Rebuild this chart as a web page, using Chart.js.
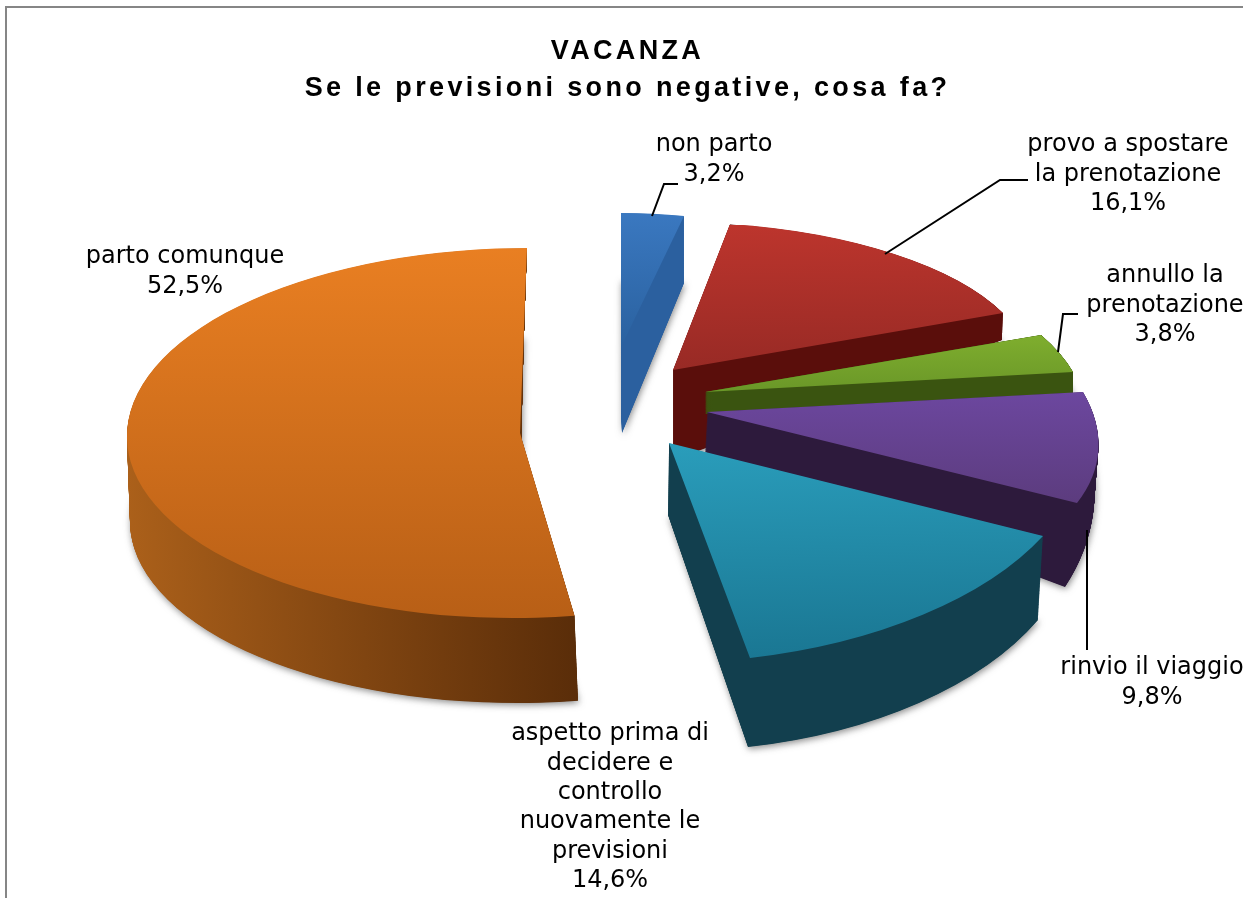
<!DOCTYPE html>
<html><head><meta charset="utf-8">
<style>html,body{margin:0;padding:0;background:#fff;overflow:hidden}
#frame{position:absolute;left:5px;top:6px;right:-4px;bottom:-4px;border:2px solid #868686}
canvas{position:absolute;left:0;top:0}</style>
<script src="https://cdn.jsdelivr.net/npm/chart.js@4/dist/chart.umd.min.js"></script>
</head><body><div id="frame"></div><canvas id="c" width="1243" height="898"></canvas>
<script>
const categories = ["non parto","provo a spostare la prenotazione","annullo la prenotazione","rinvio il viaggio","aspetto prima di decidere e controllo nuovamente le previsioni","parto comunque"];
const values = [3.2,16.1,3.8,9.8,14.6,52.5];
const titleLines = ["VACANZA","Se le previsioni sono negative, cosa fa?"];
const labelLines = [["non parto"],["provo a spostare","la prenotazione"],["annullo la","prenotazione"],["rinvio il viaggio"],["aspetto prima di","decidere e","controllo","nuovamente le","previsioni"],["parto comunque"]];
const topColors = ["#3a78c0","#bd352d","#7fae2e","#6c479f","#2a9dbb","#e97f22"];
const topDark   = ["#2a619f","#982a25","#6a9728","#5c3c7e","#1a7793","#b85f16"];
const wallLight = ["#2b609f","#5a0e0b","#3a5410","#2d1a3c","#123f4e","#ab601a"];
const wallDark  = ["#2b609f","#5a0e0b","#3a5410","#2d1a3c","#123f4e","#5a2d09"];

// label anchors: [centre x, first line centre y]
const labelPos = [[714,145],[1128,145],[1165,276],[1152,668],[610,734],[185,257]];
const lineStep = 29.4;
// leader polylines
const leaders = [
  [[652,216],[664,184],[678,184]],
  [[885,254],[1000,180],[1028,180]],
  [[1058,352],[1063,314],[1078,314]],
  [[1087,530],[1087,650]]
];
// 3D pose of each slice: top and bottom face, apex + two rim control points [deg clockwise from 12 o'clock or null = slice end, x, y]
const poses = [
 {top:{a:[621,347],p:[[null,621,213],[null,684,216]]}, bot:{a:[622,433],p:[[null,621,280],[null,684,283]]}},
 {top:{a:[673,370],p:[[null,730,224],[null,1003,313]]}, bot:{a:[673,460],p:[[null,730,292],[null,1002,340]]}},
 {top:{a:[705,392],p:[[null,1041,335],[null,1073,372]]}, bot:{a:[705,414],p:[[null,1045,354],[null,1073,394]]}},
 {top:{a:[707,412],p:[[null,1083,392],[null,1077,503]]}, bot:{a:[705,452],p:[[null,1085,432],[null,1065,587]]}},
 {top:{a:[669,443],p:[[null,1043,536],[null,750,658]]}, bot:{a:[668,515],p:[[null,1038,620],[null,748,747]]}},
 {top:{a:[520,433],p:[[0,527,248],[270,127,433]]}, bot:{a:[520,520],p:[[0,523,337],[270,130,520]]}}
];

function solve(face, el){
  const R = el.outerRadius;
  const ang = (c, fallback) => c[0]===null ? fallback : c[0]*Math.PI/180 - Math.PI/2;
  const a1 = ang(face.p[0], el.startAngle), a2 = ang(face.p[1], el.endAngle);
  const d1=[Math.cos(a1),Math.sin(a1)], d2=[Math.cos(a2),Math.sin(a2)];
  const v1=[face.p[0][1]-face.a[0],face.p[0][2]-face.a[1]], v2=[face.p[1][1]-face.a[0],face.p[1][2]-face.a[1]];
  const det=d1[0]*d2[1]-d2[0]*d1[1];
  const inv=[d2[1]/det,-d2[0]/det,-d1[1]/det,d1[0]/det];
  return {
    m11:(v1[0]*inv[0]+v2[0]*inv[2])/R, m12:(v1[0]*inv[1]+v2[0]*inv[3])/R,
    m21:(v1[1]*inv[0]+v2[1]*inv[2])/R, m22:(v1[1]*inv[1]+v2[1]*inv[3])/R,
    e:face.a[0], f:face.a[1]
  };
}
const lerp=(a,b,t)=>a+(b-a)*t;
function range(el){
  let xs=[0],ys=[0];
  for(let i=0;i<=40;i++){const a=lerp(el.startAngle,el.endAngle,i/40);xs.push(Math.cos(a));ys.push(Math.sin(a));}
  const R=el.outerRadius;
  return {x0:Math.min(...xs)*R,x1:Math.max(...xs)*R,y0:Math.min(...ys)*R,y1:Math.max(...ys)*R};
}
function drawArc(ctx,el,M,fill){
  ctx.save();
  ctx.transform(M.m11,M.m21,M.m12,M.m22,M.e,M.f);
  ctx.translate(-el.x,-el.y);
  const o=el.options;
  el.options=Object.create(o,{backgroundColor:{value:fill}});
  el.draw(ctx);
  el.options=o;
  ctx.restore();
}
const pie3d={
  id:'pie3d',
  beforeDraw(chart){ chart.ctx.letterSpacing='3.35px'; },
  beforeDatasetsDraw(chart){
    const ctx=chart.ctx; ctx.letterSpacing='0px';
    const arcs=chart.getDatasetMeta(0).data;
    arcs.forEach((el,i)=>{
      const T=solve(poses[i].top,el), B=solve(poses[i].bot,el);
      const r=range(el);
      const lx=el.x, ly=el.y;
      const wg=ctx.createLinearGradient(lx+r.x0,0,lx+r.x1,0);
      wg.addColorStop(0,wallLight[i]); wg.addColorStop(1,wallDark[i]);
      const tg=ctx.createLinearGradient(0,ly+r.y0,0,ly+r.y1);
      tg.addColorStop(0,topColors[i]); tg.addColorStop(1,topDark[i]);
      const N=Math.ceil(Math.max(B.f-T.f,90)*2);
      for(let k=N;k>=1;k--){
        const t=k/N;
        const M={};
        for(const key in T) M[key]=lerp(T[key],B[key],t);
        ctx.save();
        if(k===N){ctx.shadowColor='rgba(40,40,40,.55)';ctx.shadowBlur=7;ctx.shadowOffsetX=1;ctx.shadowOffsetY=2;}
        drawArc(ctx,el,M,wg);
        ctx.restore();
      }
      drawArc(ctx,el,T,tg);
    });
    ctx.save();ctx.strokeStyle='#000';ctx.lineWidth=2;ctx.lineJoin='miter';
    leaders.forEach(l=>{ctx.beginPath();l.forEach((p,j)=>j?ctx.lineTo(p[0],p[1]):ctx.moveTo(p[0],p[1]));ctx.stroke();});
    ctx.restore();
    ctx.save();ctx.fillStyle='#000';ctx.font='24px "DejaVu Sans"';ctx.textAlign='center';ctx.textBaseline='middle';
    labelLines.forEach((lines,i)=>{
      const [x,y]=labelPos[i];
      const all=lines.concat([values[i].toFixed(1).replace('.',',')+'%']);
      all.forEach((s,j)=>ctx.fillText(s,x,y+j*lineStep));
    });
    ctx.restore();
    return false;
  }
};
new Chart(document.getElementById('c'),{
  type:'pie',
  data:{labels:categories,datasets:[{data:values,backgroundColor:topColors,borderWidth:0}]},
  options:{
    responsive:false,animation:false,
    radius:200,
    layout:{padding:{top:33,left:12}},
    plugins:{
      legend:{display:false},tooltip:{enabled:false},
      title:{display:true,text:titleLines,color:'#000',align:'center',padding:0,
        font:{family:'"Liberation Sans"',size:27,weight:'bold',lineHeight:1.38}}
    }
  },
  plugins:[pie3d]
});
</script></body></html>
